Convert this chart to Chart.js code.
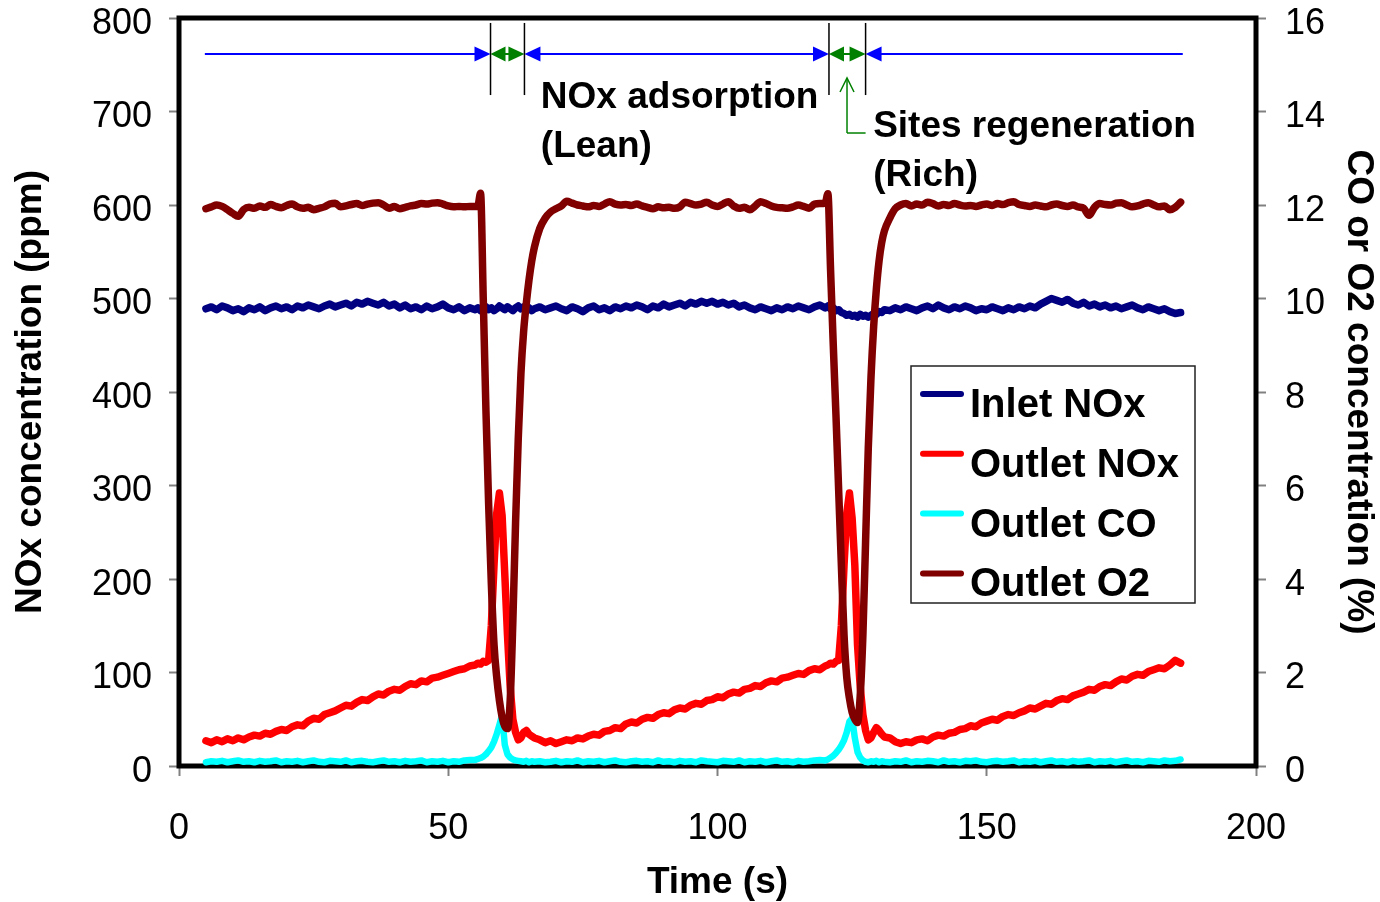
<!DOCTYPE html>
<html><head><meta charset="utf-8">
<script src="https://cdn.jsdelivr.net/npm/chart.js@4.4.1/dist/chart.umd.min.js"></script>
<style>html,body{margin:0;padding:0;background:#fff;}#wrap{width:1380px;height:902px;position:relative;}</style>
</head><body><div id="wrap"><canvas id="c"></canvas></div>
<script>
// ---- data (time in s) ----
const time = [5,6,7,8,9,10,11,12,13,14,
15,16,17,18,19,20,21,22,23,24,
25,26,27,28,29,30,31,32,33,34,
35,36,37,38,39,40,41,42,43,44,
45,46,47,48,49,50,51,52,53,54,
55,55.5,56,56.5,57,57.5,58,58.5,59,59.5,
60,60.5,61,61.5,62,62.5,63,63.5,64,64.5,
65,65.5,66,67,68,69,70,71,72,73,
74,75,76,77,78,79,80,81,82,83,
84,85,86,87,88,89,90,91,92,93,
94,95,96,97,98,99,100,101,102,103,
104,105,106,107,108,109,110,111,112,113,
114,115,116,117,118,119,120,120.5,121,121.5,
122,122.5,123,123.5,124,124.5,125,125.5,126,126.5,
127,127.5,128,128.5,129,129.5,130,130.5,131,132,
133,134,135,136,137,138,139,140,141,142,
143,144,145,146,147,148,149,150,151,152,
153,154,155,156,157,158,159,160,161,162,
163,164,165,166,167,168,169,170,171,172,
173,174,175,176,177,178,179,180,181,182,
183,184,185,186];

// ppm
const inletNOx = [489,491,488,492,490,487,489,486,490,488,
491,487,490,492,489,491,488,492,490,493,
491,489,492,494,491,493,495,492,496,494,
497,495,493,496,492,494,490,493,489,491,
488,492,489,491,494,490,488,491,487,490,
488,490,487,489,491,488,490,487,489,492,
490,488,491,489,487,490,492,489,491,488,
490,487,489,491,488,490,492,489,487,491,
489,486,490,492,488,490,487,491,489,492,
490,493,491,488,492,490,494,491,493,495,
492,496,494,497,495,497,494,496,493,495,
491,493,490,488,491,489,487,490,488,491,
489,492,490,488,491,493,490,492,489,490,
487,488,485,484,482,483,481,482,480,483,
481,482,480,482,484,483,486,485,488,487,
490,488,491,489,487,490,492,489,493,490,
488,491,489,492,490,487,489,488,491,489,
487,490,488,491,489,492,490,494,497,500,
498,496,499,495,493,496,492,494,491,493,
490,492,489,491,493,490,488,491,489,487,
489,486,484,485];

// ppm
const outletNOx = [27,25,28,26,29,27,30,28,31,33,
32,35,34,37,39,38,42,44,43,48,
51,50,55,57,59,62,65,64,68,71,
70,74,77,76,80,82,81,85,88,87,
91,90,94,95,97,99,101,103,104,107,
108,110,109,112,111,113,150,215,270,292,
268,205,140,85,50,36,28,30,36,38,
34,32,30,28,25,27,24,26,28,27,
30,29,32,34,33,37,38,41,40,45,
47,46,50,52,51,55,57,56,60,62,
61,65,67,66,70,71,74,73,77,79,
78,82,83,86,85,89,91,90,94,95,
97,99,98,102,104,103,107,108,110,109,
112,113,150,215,270,292,265,215,130,85,
55,38,28,30,36,41,38,34,31,30,
26,24,26,25,28,29,27,31,33,32,
35,36,39,40,43,42,46,48,50,49,
53,55,54,57,59,62,61,64,67,66,
70,72,71,75,77,79,82,81,85,87,
86,90,93,92,96,98,97,101,103,105,
104,108,113,110];

// %
const outletCO = [0.08,0.10,0.09,0.11,0.08,0.10,0.12,0.09,0.10,0.08,
0.11,0.09,0.10,0.12,0.08,0.10,0.09,0.11,0.08,0.10,
0.12,0.09,0.08,0.11,0.10,0.09,0.12,0.08,0.10,0.11,
0.09,0.08,0.10,0.12,0.09,0.10,0.08,0.11,0.09,0.10,
0.12,0.08,0.10,0.09,0.11,0.08,0.10,0.09,0.12,0.13,
0.13,0.15,0.17,0.20,0.25,0.32,0.40,0.52,0.68,0.88,
1.09,0.45,0.25,0.18,0.14,0.12,0.11,0.10,0.09,0.11,
0.08,0.10,0.09,0.10,0.08,0.09,0.11,0.08,0.10,0.09,
0.12,0.08,0.10,0.09,0.11,0.08,0.10,0.12,0.09,0.08,
0.10,0.11,0.09,0.10,0.08,0.12,0.09,0.10,0.08,0.11,
0.09,0.10,0.08,0.12,0.10,0.09,0.08,0.11,0.10,0.09,
0.12,0.08,0.10,0.09,0.11,0.08,0.10,0.12,0.09,0.10,
0.08,0.11,0.09,0.10,0.12,0.13,0.12,0.14,0.18,0.22,
0.28,0.35,0.44,0.55,0.72,0.95,1.02,0.60,0.30,0.18,
0.12,0.09,0.08,0.10,0.09,0.11,0.08,0.10,0.09,0.08,
0.10,0.09,0.12,0.08,0.10,0.09,0.11,0.10,0.08,0.12,
0.09,0.10,0.08,0.11,0.10,0.12,0.09,0.08,0.10,0.11,
0.09,0.10,0.12,0.08,0.10,0.09,0.11,0.08,0.10,0.12,
0.09,0.10,0.08,0.11,0.09,0.10,0.12,0.08,0.10,0.09,
0.11,0.08,0.10,0.12,0.09,0.10,0.08,0.11,0.10,0.09,
0.12,0.10,0.11,0.14];

// %
const outletO2 = [11.92,11.96,12.0,11.97,11.9,11.82,11.76,11.9,11.95,11.93,
11.98,11.95,12.01,11.97,11.94,11.99,12.02,11.96,11.93,11.95,
11.9,11.93,11.96,12.02,12.04,11.96,11.98,12.01,12.03,11.99,
12.02,12.04,12.05,12.0,11.93,11.97,11.92,11.95,11.98,12.0,
12.03,12.02,12.04,12.05,12.02,11.98,11.96,11.97,11.96,11.97,
11.97,11.98,12.25,10.0,7.6,5.6,3.9,2.6,1.9,1.4,
1.05,0.85,0.8,1.4,3.1,5.2,7.0,8.4,9.3,9.9,
10.4,10.8,11.1,11.5,11.72,11.85,11.92,11.98,12.08,12.04,
12.0,11.98,11.96,11.99,11.97,12.02,12.07,12.02,12.0,12.01,
11.99,12.02,11.98,11.95,11.92,11.96,11.94,11.95,11.93,11.96,
12.06,12.03,12.0,12.02,12.06,12.0,11.97,12.02,12.07,11.98,
11.93,11.95,11.9,11.98,12.07,12.03,11.98,11.95,11.94,11.93,
11.96,12.0,11.97,11.93,12.02,12.03,12.04,12.24,10.6,9.0,
7.5,5.9,4.3,2.8,1.9,1.45,1.15,1.0,0.93,1.5,
2.8,4.8,6.8,8.3,9.4,10.2,10.8,11.2,11.45,11.72,
11.92,12.0,12.03,11.98,12.02,12.0,12.06,12.03,11.98,12.01,
11.99,12.03,12.0,11.98,11.99,11.97,12.0,12.02,11.99,12.03,
12.01,12.05,12.07,12.01,11.99,11.97,12.0,11.98,11.96,12.0,
12.02,11.99,11.97,12.0,11.96,11.93,11.78,11.95,12.03,12.01,
12.0,12.04,12.05,12.0,11.96,11.98,12.02,12.05,12.0,11.96,
11.98,11.9,11.95,12.06];

const seriesLabels = ['Inlet NOx','Outlet NOx','Outlet CO','Outlet O2'];
const seriesColors = ['#000080','#FF0000','#00FFFF','#800000'];

// annotation anchors (data units: s, ppm)
const phaseMarkers = [57.85, 64.15, 120.7, 127.5];
const arrowLevel = 761.5;
const arrowSpan = [4.8, 186.4];
const markerSpan = [717.6, 794.7];
const phaseTexts = [
  {t: 67.2, v: 703.7, lines: ['NOx adsorption', '(Lean)']},
  {t: 128.9, v: 672.7, lines: ['Sites regeneration', '(Rich)']}
];
const callout = {t: 124.05, from: 677, to: 735.8};

const FONT = "'Liberation Sans', Arial, Helvetica, sans-serif";

function head(ctx, x, y, dir, len, half, color) {
  ctx.beginPath();
  ctx.moveTo(x, y);
  ctx.lineTo(x - dir * len, y - half);
  ctx.lineTo(x - dir * len, y + half);
  ctx.closePath();
  ctx.fillStyle = color;
  ctx.fill();
}
function seg(ctx, x1, y1, x2, y2) {
  ctx.beginPath(); ctx.moveTo(x1, y1); ctx.lineTo(x2, y2); ctx.stroke();
}

const annotPlugin = {
  id: 'annot',
  beforeDatasetsDraw(chart) {
    const {ctx, chartArea: ca} = chart;
    ctx.save();
    ctx.strokeStyle = '#000';
    ctx.lineWidth = 5;
    ctx.strokeRect(ca.left, ca.top, ca.right - ca.left, ca.bottom - ca.top);
    ctx.restore();
  },
  afterDatasetsDraw(chart) {
    const {ctx, chartArea: ca} = chart;
    const xs = chart.scales.x, ys = chart.scales.y;
    const X = v => xs.getPixelForValue(v), Y = v => ys.getPixelForValue(v);
    ctx.save();
    const yA = Y(arrowLevel);
    const [m1, m2, m3, m4] = phaseMarkers.map(X);
    const blue = '#0000FF', green = '#008000';
    ctx.strokeStyle = blue; ctx.lineWidth = 2;
    seg(ctx, X(arrowSpan[0]), yA, m1 - 12, yA);
    seg(ctx, m2 + 12, yA, m3 - 12, yA);
    seg(ctx, m4 + 12, yA, X(arrowSpan[1]), yA);
    head(ctx, m1, yA, 1, 16, 7.5, blue);
    head(ctx, m2, yA, -1, 16, 7.5, blue);
    head(ctx, m3, yA, 1, 16, 7.5, blue);
    head(ctx, m4, yA, -1, 16, 7.5, blue);
    ctx.strokeStyle = green;
    seg(ctx, m1 + 8, yA, m2 - 8, yA);
    seg(ctx, m3 + 8, yA, m4 - 8, yA);
    head(ctx, m1, yA, -1, 15, 7.5, green);
    head(ctx, m2, yA, 1, 16, 7.5, green);
    head(ctx, m3, yA, -1, 15, 7.5, green);
    head(ctx, m4, yA, 1, 16, 7.5, green);
    // marker lines
    ctx.strokeStyle = '#000'; ctx.lineWidth = 1.5;
    [m1, m2, m3, m4].forEach(x => seg(ctx, x, Y(markerSpan[1]), x, Y(markerSpan[0])));
    // callout arrow
    ctx.strokeStyle = green; ctx.lineWidth = 1.5;
    const cx = X(callout.t), cyb = Y(callout.from), cyt = Y(callout.to);
    seg(ctx, cx, cyb, cx, cyt);
    seg(ctx, cx, cyb, m4, cyb);
    ctx.beginPath();
    ctx.moveTo(cx - 7, cyt + 14); ctx.lineTo(cx, cyt); ctx.lineTo(cx + 7, cyt + 14);
    ctx.stroke();
    // phase texts
    ctx.fillStyle = '#000';
    ctx.font = `bold 37px ${FONT}`;
    ctx.textAlign = 'left'; ctx.textBaseline = 'alphabetic';
    phaseTexts.forEach(p => p.lines.forEach((l, i) => ctx.fillText(l, X(p.t), Y(p.v) + i * 49)));
    // legend
    const lx = ca.left + 732, ly = ca.top + 348, lw = 284, lh = 237;
    ctx.fillStyle = '#fff';
    ctx.fillRect(lx, ly, lw, lh);
    ctx.strokeStyle = '#222'; ctx.lineWidth = 1.5;
    ctx.strokeRect(lx, ly, lw, lh);
    ctx.font = `bold 40px ${FONT}`;
    chart.data.datasets.forEach((ds, i) => {
      const yy = ly + 28 + i * 59.8;
      ctx.strokeStyle = ds.borderColor; ctx.lineWidth = 6; ctx.lineCap = 'round';
      seg(ctx, lx + 12, yy, lx + 50, yy);
      ctx.fillStyle = '#000';
      ctx.fillText(ds.label, lx + 59, yy + 23);
    });
    ctx.restore();
  }
};

const mk = arr => time.map((t, i) => ({x: t, y: arr[i]}));
const tickFont = {family: FONT, size: 36};
const titleFont = {family: FONT, size: 37, weight: 'bold', lineHeight: 1};
const gridOpts = {drawOnChartArea: false, drawTicks: true, tickLength: 10, tickColor: '#808080', tickWidth: 2};

new Chart(document.getElementById('c'), {
  type: 'line',
  data: {datasets: [
    {label: seriesLabels[0], data: mk(inletNOx), yAxisID: 'y', borderColor: seriesColors[0], borderWidth: 7.5, order: 3},
    {label: seriesLabels[1], data: mk(outletNOx), yAxisID: 'y', borderColor: seriesColors[1], borderWidth: 7.5, order: 2},
    {label: seriesLabels[2], data: mk(outletCO), yAxisID: 'y1', borderColor: seriesColors[2], borderWidth: 6.5, order: 1},
    {label: seriesLabels[3], data: mk(outletO2), yAxisID: 'y1', borderColor: seriesColors[3], borderWidth: 7.5, order: 0, cubicInterpolationMode: 'monotone'}
  ]},
  options: {
    responsive: true, maintainAspectRatio: false, animation: false,
    layout: {padding: {top: 18, left: 0, right: 0, bottom: 0}},
    plugins: {legend: {display: false}, tooltip: {enabled: false}},
    elements: {line: {borderJoinStyle: 'round', borderCapStyle: 'round', tension: 0}, point: {radius: 0}},
    scales: {
      x: {type: 'linear', min: 0, max: 200, position: 'bottom',
        ticks: {stepSize: 50, font: tickFont, color: '#000', padding: 31, maxRotation: 0},
        grid: gridOpts, border: {display: false},
        title: {display: true, text: 'Time (s)', font: titleFont, color: '#000', padding: {top: 0, bottom: 1}},
        afterFit(s) { s.height = 136; s.paddingLeft = 0; s.paddingRight = 0; }
      },
      y: {type: 'linear', min: 0, max: 800, position: 'left',
        ticks: {stepSize: 100, font: tickFont, color: '#000', padding: 17, labelOffset: 6},
        grid: gridOpts, border: {display: false},
        title: {display: true, text: 'NOx concentration (ppm)', font: titleFont, color: '#000', padding: {top: 12, bottom: 0}},
        afterFit(s) { s.width = 179; s.paddingTop = 0; s.paddingBottom = 0; }
      },
      y1: {type: 'linear', min: 0, max: 16, position: 'right',
        ticks: {stepSize: 2, font: tickFont, color: '#000', padding: 19, labelOffset: 6},
        grid: gridOpts, border: {display: false},
        title: {display: true, text: 'CO or O2 concentration (%)', font: titleFont, color: '#000', padding: {top: 3, bottom: 0}},
        afterFit(s) { s.width = 124; s.paddingTop = 0; s.paddingBottom = 0; }
      }
    }
  },
  plugins: [annotPlugin]
});
</script>
</body></html>
